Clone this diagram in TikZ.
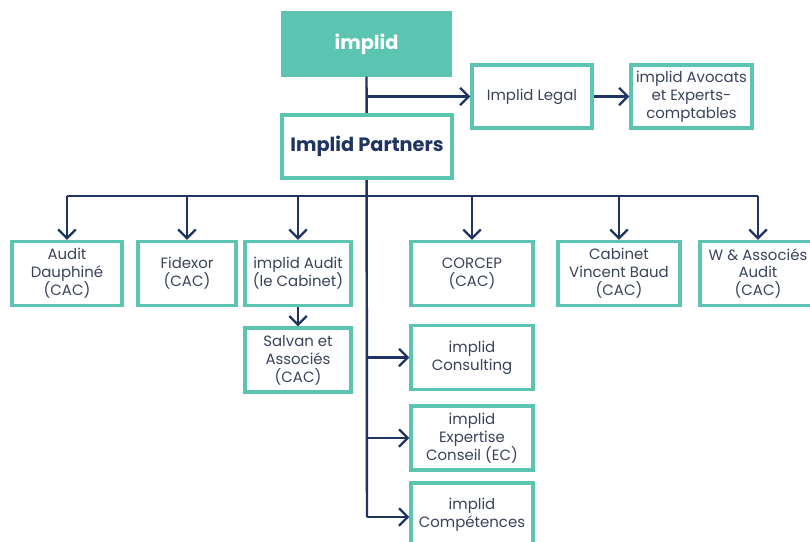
\documentclass[tikz,border=0pt]{standalone}
\usepackage{fontspec}
\setmainfont{Poppins}
\usetikzlibrary{arrows.meta}
\definecolor{tealbox}{RGB}{92,197,177}
\definecolor{navyline}{RGB}{31,52,96}
\definecolor{boxtext}{RGB}{58,66,92}

\begin{document}
\begin{tikzpicture} [x=0.02cm, y=-0.02cm,
                box/.style={draw=tealbox, line width=1.8pt, fill=white, align=center, text=boxtext,
                  font=\fontsize{8.5}{10.2}\selectfont, inner sep=1pt, minimum height=1.28cm},
                link/.style={draw=navyline, line width=1.4pt},
                arr/.style={link, -{Straight Barb[length=5pt, width=10pt, line width=1.3pt]}}]
                \useasboundingbox (0,0) rectangle (810,541);
                \node[box, fill=tealbox, text=white, font=\bfseries\fontsize{11}{13}\selectfont,
                  minimum width=3.34cm, minimum height=1.24cm] (implid) at (366.5,44) {implid};
                \coordinate (trunkend) at (367,517);
                \coordinate (bus) at (367,196);
                \draw[link] (implid.south) -- (trunkend);
                \node[box, minimum width=2.4cm, minimum height=1.26cm] (legal) at (532,96.5) {Implid Legal};
                \node[box, minimum width=2.42cm, minimum height=1.26cm] (avocats) at (691.5,96.5) {implid Avocats\\et Experts-\\comptables};
                \node[box, text=navyline, font=\bfseries\fontsize{11}{13}\selectfont,
                  minimum width=3.4cm, minimum height=1.26cm] (partners) at (367,146.5) {Implid Partners};
                \node[box, minimum width=2.2cm] (dauphine) at (67,273.5) {Audit\\Dauphiné\\(CAC)};
                \node[box, minimum width=1.96cm] (fidexor) at (187,273.5) {Fidexor\\(CAC)};
                \node[box, minimum width=2.12cm] (audit) at (298,273.5) {implid Audit\\(le Cabinet)};
                \node[box, minimum width=2.44cm] (corcep) at (472,273.5) {CORCEP\\(CAC)};
                \node[box, minimum width=2.44cm] (vincent) at (619,273.5) {Cabinet\\Vincent Baud\\(CAC)};
                \node[box, minimum width=2.32cm] (wassoc) at (758,273.5) {W \& Associés\\Audit\\(CAC)};
                \node[box, minimum width=2.12cm] (salvan) at (298,360) {Salvan et\\Associés\\(CAC)};
                \node[box, minimum width=2.44cm] (consulting) at (472,357.5) {implid\\Consulting};
                \node[box, minimum width=2.44cm] (expertise) at (472,438) {implid\\Expertise\\Conseil (EC)};
                \node[box, minimum width=2.44cm] (competences) at (472,515) {implid\\Compétences};
                % upper branches
                \draw[arr] (implid.south |- legal.west) -- (legal.west);
                \draw[arr] (legal.east) -- (avocats.west);
                % bus to the firms
                \draw[link] (dauphine.north |- bus) -- (wassoc.north |- bus);
                \draw[arr] (dauphine.north |- bus) -- (dauphine.north);
                \draw[arr] (fidexor.north |- bus) -- (fidexor.north);
                \draw[arr] (audit.north |- bus) -- (audit.north);
                \draw[arr] (corcep.north |- bus) -- (corcep.north);
                \draw[arr] (vincent.north |- bus) -- (vincent.north);
                \draw[arr] (wassoc.north |- bus) -- (wassoc.north);
                \draw[arr] (audit.south) -- (salvan.north);
                % side branches off the trunk
                \draw[arr] (trunkend |- consulting.west) -- (consulting.west);
                \draw[arr] (trunkend |- expertise.west) -- (expertise.west);
                \draw[arr] (trunkend) -- (competences.west |- trunkend);
            \end{tikzpicture}
\end{document}
